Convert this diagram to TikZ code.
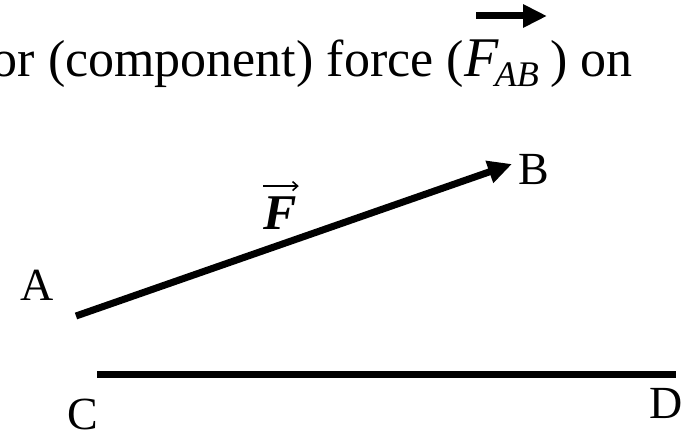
\documentclass[tikz,border=0pt]{standalone}
\usepackage{fontspec}
\setmainfont{Liberation Serif}
\usetikzlibrary{arrows.meta}
\begin{document}
\begin{tikzpicture}[x=1pt,y=-1pt,
  lbl/.style={inner sep=0pt,anchor=base west,font=\fontsize{46}{50}\selectfont},
  toptext/.style={inner sep=0pt,font=\fontsize{52}{60}\selectfont},
  thickarrow/.style={line width=7pt,-{Triangle[length=24pt,width=22pt]}},
  thickline/.style={line width=7pt}]
\useasboundingbox (0,0) rectangle (693,438);
% title line
\node[toptext,anchor=base east] (t1) at (464,77) {or (component) force (};
\node[toptext,anchor=base west,font=\fontsize{56}{60}\selectfont\itshape] (tF) at (464,77) {F};
\node[inner sep=0pt,anchor=base west,font=\fontsize{36}{40}\selectfont\itshape] (tAB) at ([xshift=-4pt,yshift=-10pt]tF.base east) {AB};
\node[toptext,anchor=base east] (t2) at (633,77) {)\ on};
\coordinate (ta) at (476,16);
\coordinate (tb) at (547,16);
\draw[thickarrow] (ta) -- (tb);
% points
\node[lbl] (A) at (20,300) {A};
\node[lbl] (B) at (518,185) {B};
\node[lbl] (C) at (67,429) {C};
\node[lbl] (D) at (649,418) {D};
\coordinate (a) at (76,316);
\coordinate (b) at (512,164);
\coordinate (c) at (97,374);
\coordinate (d) at (676,374);
\draw[thickarrow] (a) -- (b);
\draw[thickline] (c) -- (d);
% F vector label
\node[inner sep=0pt,anchor=base west,font=\fontsize{50}{60}\selectfont\bfseries\itshape] (F) at (263,230) {F};
\draw[line width=1.6pt,-{Straight Barb[length=5pt,width=9pt]}] ([shift={(0pt,11pt)}]F.north west) -- ([shift={(2pt,11pt)}]F.north east);
\end{tikzpicture}
\end{document}
